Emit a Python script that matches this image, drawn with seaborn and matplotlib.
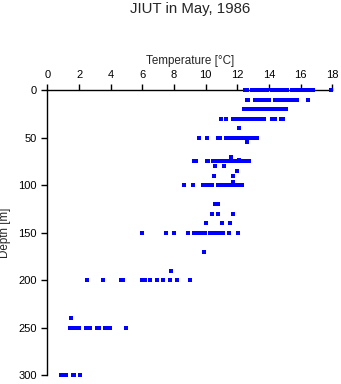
import matplotlib
matplotlib.use("Agg")
import matplotlib.pyplot as plt
import seaborn as sns
import pandas as pd

sns.set_style("ticks")
plt.rcParams['font.family'] = ['Liberation Sans', 'DejaVu Sans']

# ---- data: temperature readings (deg C) at each sampled depth (m) ----
t_000 = [12.5, 12.6, 12.9, 13.0, 13.1, 13.2, 13.3, 13.4, 13.5, 13.6, 13.7, 13.8, 13.9,
         14.2, 14.3, 14.4, 14.5, 14.6, 14.7, 14.8, 14.9, 15.0, 15.1, 15.15,
         15.45, 15.55, 15.65, 15.75, 15.85, 15.95, 16.05, 16.15, 16.25, 16.35, 16.45,
         16.55, 16.65, 16.75, 16.8, 17.9]
t_010 = [12.6, 12.7, 13.1, 13.2, 13.3, 13.4, 13.5, 13.6, 13.7, 13.8, 13.9, 14.0,
         14.35, 14.45, 14.55, 14.65, 14.75, 14.85, 14.95, 15.05, 15.15, 15.25, 15.35, 15.5,
         15.75, 16.45]
t_020 = [12.45, 12.55, 12.65, 12.75, 12.85, 12.95, 13.05, 13.15, 13.25, 13.35, 13.45,
         13.55, 13.65, 13.75, 13.85, 13.95, 14.05, 14.15, 14.25, 14.35, 14.45, 14.55,
         14.65, 14.75, 14.85, 14.95, 15.05, 15.1]
t_030 = [10.95, 11.3, 11.7, 11.8, 11.9, 12.0, 12.1, 12.2, 12.3, 12.4, 12.5, 12.6, 12.7,
         12.8, 12.9, 13.0, 13.1, 13.2, 13.3, 13.4, 13.5, 13.6, 13.7,
         14.2, 14.4, 14.75, 14.9]
t_040 = [12.1]
t_050 = [9.6, 10.1, 10.75, 10.9, 11.3, 11.4, 11.5, 11.6, 11.7, 11.8, 11.9, 12.0, 12.1,
         12.2, 12.3, 12.4, 12.5, 12.6, 12.7, 12.8, 12.9, 13.0, 13.1, 13.25]
t_055 = [12.6]
t_070 = [11.6]
t_074 = [12.1]
t_075 = [9.25, 9.4, 10.05, 10.15, 10.45, 10.55, 10.65, 10.75, 10.85, 10.95, 11.05, 11.15,
         11.25, 11.35, 11.45, 11.55, 11.65, 11.75, 11.85, 11.95, 12.05, 12.15, 12.25,
         12.35, 12.45, 12.55, 12.65, 12.75]
t_080 = [10.6, 11.15]
t_085 = [12.0]
t_090 = [10.55, 11.75]
t_097 = [11.7]
t_100 = [8.6, 9.2, 9.8, 9.9, 10.0, 10.1, 10.2, 10.3, 10.4, 10.8, 10.9, 11.0, 11.1, 11.2,
         11.3, 11.4, 11.5, 11.6, 11.7, 11.8, 11.9, 12.0, 12.1, 12.2, 12.3]
t_120 = [10.6, 10.8]
t_130 = [10.4, 10.75, 11.75]
t_140 = [10.0, 11.05, 11.55]
t_150 = [6.0, 7.5, 8.0, 8.9, 9.25, 9.35, 9.45, 9.55, 9.65, 9.75, 9.85, 9.95,
         10.25, 10.35, 10.45, 10.55, 10.65, 10.75, 11.05, 11.1, 11.45, 12.05]
t_170 = [9.9]
t_190 = [7.8]
t_200 = [2.5, 3.5, 4.65, 4.75, 6.0, 6.15, 6.5, 6.9, 7.3, 7.75, 8.2, 9.0]
t_240 = [1.5]
t_250 = [1.42, 1.68, 1.82, 1.97, 2.41, 2.7, 3.13, 3.27, 3.66, 3.88, 3.98, 4.99]
t_300 = [0.85, 0.95, 1.05, 1.15, 1.2, 1.6, 1.65, 2.08]

depths = [0, 10, 20, 30, 40, 50, 55, 70, 74, 75, 80, 85, 90, 97, 100,
          120, 130, 140, 150, 170, 190, 200, 240, 250, 300]
temps = [t_000, t_010, t_020, t_030, t_040, t_050, t_055, t_070, t_074, t_075, t_080,
         t_085, t_090, t_097, t_100, t_120, t_130, t_140, t_150, t_170, t_190, t_200,
         t_240, t_250, t_300]

xticks = [0, 2, 4, 6, 8, 10, 12, 14, 16, 18]
yticks = [0, 50, 100, 150, 200, 250, 300]

rows = [(d, t) for d, ts in zip(depths, temps) for t in ts]
df = pd.DataFrame(rows, columns=["Depth", "Temperature"])

W, H = 341, 384
fig = plt.figure(figsize=(W / 100, H / 100), dpi=100)
x0, x1, y0, y1 = 47.5, 332.3, 90.0, 375.3
ax = fig.add_axes([x0 / W, 1 - y1 / H, (x1 - x0) / W, (y1 - y0) / H])

sns.scatterplot(data=df, x="Temperature", y="Depth", marker="s", s=5.2,
                color="#0000ff", linewidth=0, ax=ax, clip_on=False, legend=False,
                antialiased=False, zorder=4)

ax.set_xlim(0, 18)
ax.set_ylim(300, 0)
ax.xaxis.tick_top()
ax.xaxis.set_label_position('top')
ax.set_xticks(xticks)
ax.set_yticks(yticks)
for s in ['right', 'bottom']:
    ax.spines[s].set_visible(False)
for s in ['top', 'left']:
    ax.spines[s].set_linewidth(1.0)
    ax.spines[s].set_color('black')
ax.tick_params(direction='out', length=4, width=1.0, labelsize=8, pad=3.5,
               colors='black')

ax.set_xlabel("Temperature [°C]", fontsize=8.4)
ax.xaxis.label.set_va('baseline')
ax.xaxis.set_label_coords(0.5, 1 + (y0 - 64.3) / (y1 - y0))
ax.set_ylabel("Depth [m]", fontsize=8.4)
ax.yaxis.label.set_va('center')
ax.yaxis.set_label_coords((5.0 - x0) / (x1 - x0), 0.5)

fig.text((x0 + x1) / 2 / W, 1 - 12.7 / H, "JIUT in May, 1986", ha='center',
         va='baseline', fontsize=10.8)

fig.savefig("out.png", dpi=100)
